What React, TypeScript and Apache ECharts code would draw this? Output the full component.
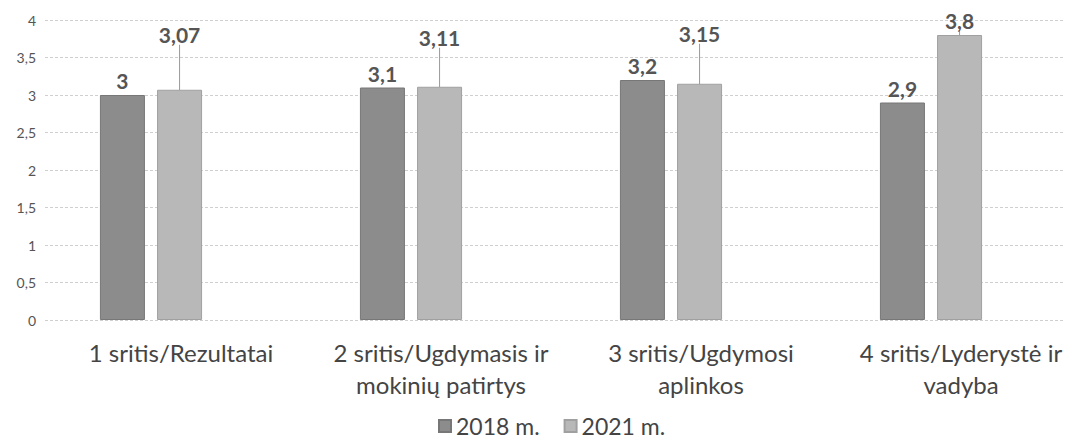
import React, { useEffect, useRef } from "react";
import * as echarts from "echarts";

const categories = [
  "1 sritis/Rezultatai",
  "2 sritis/Ugdymasis ir\nmokinių patirtys",
  "3 sritis/Ugdymosi\naplinkos",
  "4 sritis/Lyderystė ir\nvadyba",
];
const series2018 = [3, 3.1, 3.2, 2.9];
const series2021 = [3.07, 3.11, 3.15, 3.8];
const labelShift2021 = [-41, -35, -36, 0];

const fmt = (v: number) => String(v).replace(".", ",");

export default function App() {
  const ref = useRef<HTMLDivElement>(null);
  useEffect(() => {
    if (!ref.current) return;
    const chart = echarts.init(ref.current, null, { renderer: "svg" });
    const font = "Lato, 'Open Sans', sans-serif";
    chart.setOption({
      animation: false,
      backgroundColor: "#ffffff",
      textStyle: { fontFamily: font },
      grid: [
        { left: 37, right: 0, top: 12, bottom: 123 },
        { left: 13, right: 12, top: 12, bottom: 123 },
      ],
      xAxis: [
        { type: "category", gridIndex: 0, data: categories, show: false },
        {
          type: "category",
          gridIndex: 1,
          data: categories,
          axisLine: { show: false },
          axisTick: { show: false },
          axisLabel: {
            color: "#444",
            fontSize: 24,
            lineHeight: 32,
            margin: 16,
            padding: [0, 0, 0, 60],
            fontFamily: font,
            interval: 0,
          },
        },
      ],
      yAxis: [
        {
          type: "value",
          gridIndex: 0,
          min: 0,
          max: 4,
          interval: 0.5,
          axisLabel: {
            color: "#555",
            fontSize: 14,
            margin: 9,
            fontFamily: font,
            formatter: (v: number) => fmt(v),
          },
          axisLine: { show: false },
          axisTick: { show: false },
          splitLine: { lineStyle: { color: "#cfcfcf", type: [3, 2], width: 1 } },
        },
        {
          type: "value",
          gridIndex: 1,
          min: 0,
          max: 4,
          interval: 0.5,
          show: false,
          splitLine: { show: false },
        },
      ],
      legend: {
        top: 406,
        left: 430,
        padding: 0,
        itemWidth: 12,
        itemHeight: 12,
        itemGap: 24,
        icon: "rect",
        textStyle: { color: "#444", fontSize: 23, lineHeight: 24, fontFamily: font },
        data: ["2018 m.", "2021 m."],
      },
      series: [
        {
          name: "2018 m.",
          type: "bar",
          xAxisIndex: 1,
          yAxisIndex: 1,
          data: series2018,
          barWidth: 45,
          barGap: "27%",
          itemStyle: { color: "#8c8c8c", borderColor: "#777", borderWidth: 1 },
          label: {
            show: true,
            position: "top",
            distance: 4,
            color: "#555",
            fontSize: 21,
            fontWeight: "bold",
            fontFamily: font,
            formatter: (p: any) => fmt(p.value),
          },
        },
        {
          name: "2021 m.",
          type: "bar",
          xAxisIndex: 1,
          yAxisIndex: 1,
          data: series2021,
          barWidth: 45,
          itemStyle: { color: "#b8b8b8", borderColor: "#a0a0a0", borderWidth: 1 },
          label: {
            show: true,
            position: "top",
            distance: 4,
            color: "#555",
            fontSize: 21,
            fontWeight: "bold",
            fontFamily: font,
            formatter: (p: any) => fmt(p.value),
          },
          labelLine: { show: true, lineStyle: { color: "#999", width: 1 } },
          labelLayout: (params: any) =>
            labelShift2021[params.dataIndex] ? { dy: labelShift2021[params.dataIndex] } : {},
        },
      ],
    });
    return () => chart.dispose();
  }, []);
  return <div ref={ref} style={{ width: 1065, height: 435 }} />;
}
